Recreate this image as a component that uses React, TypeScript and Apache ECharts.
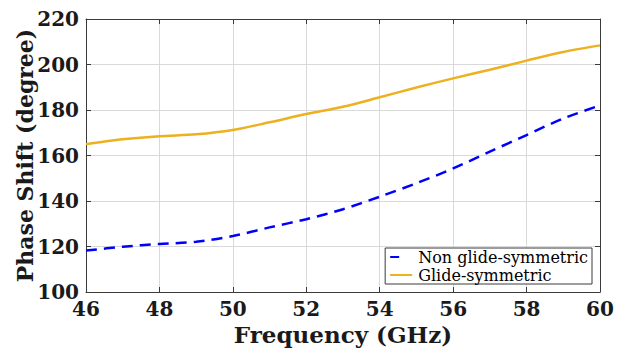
import React, { useEffect, useRef } from "react";
import * as echarts from "echarts";

const freq = [46, 47, 48, 49, 50, 51, 52, 53, 54, 55, 56, 57, 58, 59, 60];
const nonGlide = [118.2, 119.9, 121.1, 122.1, 124.6, 128.4, 132.0, 136.4, 141.9, 147.8, 154.3, 161.7, 169.0, 176.3, 182.0];
const glide = [165.0, 167.1, 168.5, 169.3, 171.2, 174.6, 178.2, 181.4, 185.6, 189.9, 193.9, 197.7, 201.7, 205.5, 208.4];
const seriesNames = ["Non glide-symmetric", "Glide-symmetric"];

const FONT = "DejaVu Serif";

export default function App() {
  const ref = useRef<HTMLDivElement>(null);
  useEffect(() => {
    if (!ref.current) return;
    const chart = echarts.init(ref.current, null, { renderer: "svg" });
    const pair = (ys: number[]) => freq.map((f, i) => [f, ys[i]]);
    const axisLine = { show: true, lineStyle: { color: "#3a3a3a", width: 1 } };
    const splitLine = { show: true, lineStyle: { color: "#d9d9d9", width: 1 } };
    const tick = { show: true, inside: true, length: 5, lineStyle: { color: "#3a3a3a" } };
    chart.setOption({
      animation: false,
      backgroundColor: "#ffffff",
      grid: { left: 86, right: 18, top: 19, bottom: 58, containLabel: false, outerBoundsMode: "none" },
      legend: {
        orient: "vertical",
        right: 26,
        bottom: 66,
        backgroundColor: "#ffffff",
        borderColor: "#3a3a3a",
        borderWidth: 1,
        borderRadius: 0,
        padding: [0, 4, 0, 4],
        itemGap: 0,
        itemWidth: 22,
        itemHeight: 10,
        itemStyle: { opacity: 0 },
        textStyle: { fontFamily: FONT, fontSize: 16, lineHeight: 18, color: "#000", padding: [0, 0, 0, 1] },
        data: [
          { name: seriesNames[0], lineStyle: { type: [9, 30] } },
          { name: seriesNames[1] },
        ],
      },
      xAxis: [
        {
          type: "value",
          min: 46,
          max: 60,
          interval: 2,
          name: "Frequency (GHz)",
          nameLocation: "middle",
          nameGap: 31,
          nameMoveOverlap: false,
          nameTextStyle: { fontFamily: FONT, fontSize: 23, fontWeight: "bold", color: "#1a1a1a" },
          axisLine,
          axisTick: tick,
          splitLine,
          axisLabel: { fontFamily: FONT, fontSize: 20, fontWeight: "bold", color: "#1a1a1a", margin: 7 },
        },
        {
          type: "value",
          position: "top",
          min: 46,
          max: 60,
          interval: 2,
          axisLine,
          axisTick: tick,
          splitLine: { show: false },
          axisLabel: { show: false },
        },
      ],
      yAxis: [
        {
          type: "value",
          min: 100,
          max: 220,
          interval: 20,
          name: "Phase Shift (degree)",
          nameLocation: "middle",
          nameGap: 50,
          nameMoveOverlap: false,
          nameTextStyle: { fontFamily: FONT, fontSize: 22, fontWeight: "bold", color: "#1a1a1a" },
          axisLine,
          axisTick: tick,
          splitLine,
          axisLabel: { fontFamily: FONT, fontSize: 20, fontWeight: "bold", color: "#1a1a1a", margin: 7 },
        },
        {
          type: "value",
          position: "right",
          min: 100,
          max: 220,
          interval: 20,
          axisLine,
          axisTick: tick,
          splitLine: { show: false },
          axisLabel: { show: false },
        },
      ],
      series: [
        {
          name: seriesNames[0],
          type: "line",
          data: pair(nonGlide),
          smooth: 0.3,
          showSymbol: false,
          symbol: "none",
          lineStyle: { color: "#0000ff", width: 2.5, type: [11, 7] },
          itemStyle: { color: "#0000ff" },
          z: 3,
        },
        {
          name: seriesNames[1],
          type: "line",
          data: pair(glide),
          smooth: 0.3,
          showSymbol: false,
          symbol: "none",
          lineStyle: { color: "#edb120", width: 2.5 },
          itemStyle: { color: "#edb120" },
          z: 3,
        },
      ],
    });
    return () => chart.dispose();
  }, []);
  return (
    <div
      ref={ref}
      style={{ position: "absolute", left: 0, top: 0, width: 618, height: 350 }}
    />
  );
}
